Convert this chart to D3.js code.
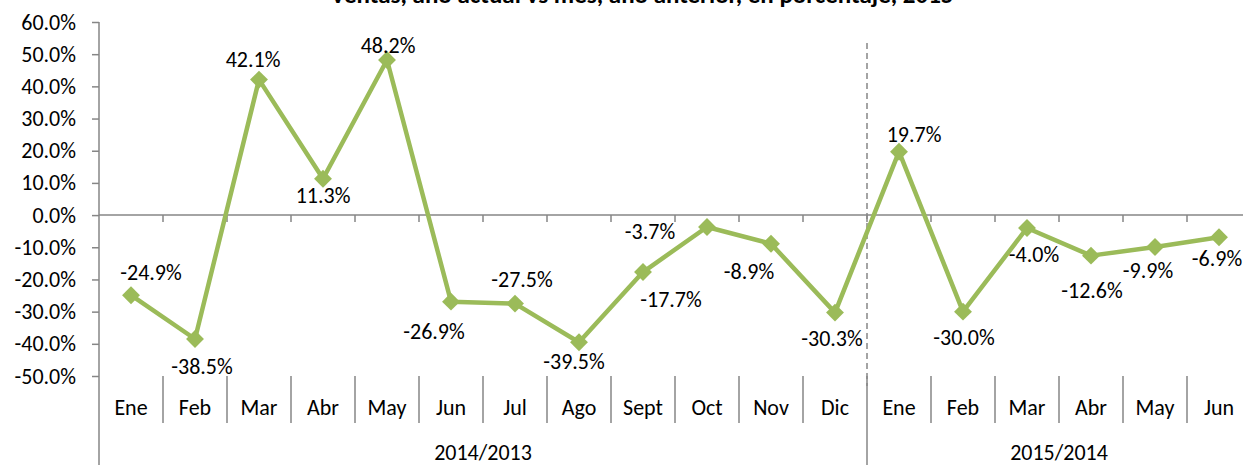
<!DOCTYPE html>
<html>
<head>
<meta charset="utf-8">
<script src="https://cdn.jsdelivr.net/npm/d3@7"></script>
<style>
  body { margin: 0; background: #fff; }
  svg text { font-family: Calibri, Carlito, Lato, sans-serif; fill: #000; }
</style>
</head>
<body>
<div id="chart"></div>
<script>
// datos
let months2014 = ["Ene", "Feb", "Mar", "Abr", "May", "Jun", "Jul", "Ago", "Sept", "Oct", "Nov", "Dic"]
let months2015 = ["Ene", "Feb", "Mar", "Abr", "May", "Jun"]
let values2014 = [-24.9, -38.5, 42.1, 11.3, 48.2, -26.9, -27.5, -39.5, -17.7, -3.7, -8.9, -30.3]
let values2015 = [19.7, -30.0, -4.0, -12.6, -9.9, -6.9]
let groupNames = ["2014/2013", "2015/2014"]
let yTicks = [-50, -40, -30, -20, -10, 0, 10, 20, 30, 40, 50, 60]
let titleText = "Ventas, año actual vs mes, año anterior, en porcentaje, 2015"
// desplazamiento de etiquetas (colocadas a mano en el original)
let labelDx = [20, 7, -6, 0, 1, -17, 7, -5, 28, -57, -22, -3, 15, 1, 7, 1, -7, -2]
let labelDy = [-23, 27, -20, 17, -15, 30, -24, 19, 27, 4, 28, 26, -17, 26, 26, 35, 23, 21]

let width = 1243, height = 465
let margin = { top: 22, left: 99, bottom: 376 }
let catW = 64
let fontSize = "22px"
let lineColor = "#9BBB59", axisColor = "#868686"

let cats = months2014.concat(months2015)
let values = values2014.concat(values2015)
let points = values.map((v, i) => ({ i: i, v: v, name: cats[i] }))

let svg = d3.select("#chart").append("svg")
    .attr("width", width)
    .attr("height", height)

let x = d3.scaleBand()
    .domain(d3.range(cats.length))
    .range([margin.left, margin.left + cats.length * catW])
let y = d3.scaleLinear()
    .domain([-50, 60])
    .range([margin.bottom, margin.top])

// titulo (recortado arriba, como en el original)
svg.append("text")
    .attr("x", 642)
    .attr("y", 3)
    .attr("text-anchor", "middle")
    .style("font-size", "25px")
    .style("font-weight", "bold")
    .text(titleText)

// eje y
let yAxis = svg.append("g")
    .attr("transform", "translate(" + margin.left + ",0)")
    .call(d3.axisLeft(y).tickValues(yTicks).tickSize(7).tickPadding(16)
        .tickFormat(d => d.toFixed(1) + "%"))
yAxis.select(".domain").remove()
yAxis.selectAll(".tick line").attr("stroke", axisColor).attr("stroke-width", 1.5)
yAxis.selectAll(".tick text")
    .style("font-size", fontSize)
    .style("font-family", "Calibri, Carlito, Lato, sans-serif")
    .attr("fill", "#000")
svg.append("line")
    .attr("x1", margin.left).attr("x2", margin.left)
    .attr("y1", y(60)).attr("y2", height)
    .attr("stroke", axisColor).attr("stroke-width", 1.5)

// linea del cero con marcas
svg.append("line")
    .attr("x1", margin.left).attr("x2", width)
    .attr("y1", y(0)).attr("y2", y(0))
    .attr("stroke", axisColor).attr("stroke-width", 1.5)
svg.selectAll(".zeroTick")
    .data(d3.range(1, cats.length + 1))
    .enter()
    .append("line")
    .attr("class", "zeroTick")
    .attr("x1", d => margin.left + d * catW).attr("x2", d => margin.left + d * catW)
    .attr("y1", y(0)).attr("y2", y(0) + 7)
    .attr("stroke", axisColor).attr("stroke-width", 1.5)

// eje de categorias
svg.selectAll(".catDiv")
    .data(d3.range(1, cats.length + 1))
    .enter()
    .append("line")
    .attr("class", "catDiv")
    .attr("x1", d => margin.left + d * catW).attr("x2", d => margin.left + d * catW)
    .attr("y1", margin.bottom)
    .attr("y2", d => (d === months2014.length || d === cats.length) ? height : 423)
    .attr("stroke", axisColor).attr("stroke-width", 1.5)

svg.selectAll(".catLabel")
    .data(cats)
    .enter()
    .append("text")
    .attr("class", "catLabel")
    .attr("x", (d, i) => x(i) + x.bandwidth() / 2)
    .attr("y", 415)
    .attr("text-anchor", "middle")
    .style("font-size", fontSize)
    .text(d => d)

let groupSpans = [[0, months2014.length], [months2014.length, cats.length]]
svg.selectAll(".groupLabel")
    .data(groupNames)
    .enter()
    .append("text")
    .attr("class", "groupLabel")
    .attr("x", (d, i) => margin.left + (groupSpans[i][0] + groupSpans[i][1]) / 2 * catW)
    .attr("y", 460)
    .attr("text-anchor", "middle")
    .style("font-size", fontSize)
    .text(d => d)

// linea punteada entre años
let sepX = margin.left + months2014.length * catW
svg.append("line")
    .attr("x1", sepX).attr("x2", sepX)
    .attr("y1", 43).attr("y2", 386)
    .attr("stroke", axisColor).attr("stroke-width", 1.5)
    .attr("stroke-dasharray", "6,4")

// serie
let line = d3.line()
    .x(d => x(d.i) + x.bandwidth() / 2)
    .y(d => y(d.v))
svg.append("path")
    .datum(points)
    .attr("d", line)
    .attr("fill", "none")
    .attr("stroke", lineColor)
    .attr("stroke-width", 4.5)
    .attr("stroke-linejoin", "round")

svg.selectAll(".marker")
    .data(points)
    .enter()
    .append("path")
    .attr("class", "marker")
    .attr("d", d3.symbol().type(d3.symbolSquare).size(160))
    .attr("transform", d => "translate(" + (x(d.i) + x.bandwidth() / 2) + "," + y(d.v) + ") rotate(45)")
    .attr("fill", lineColor)

svg.selectAll(".dataLabel")
    .data(points)
    .enter()
    .append("text")
    .attr("class", "dataLabel")
    .attr("x", d => x(d.i) + x.bandwidth() / 2 + labelDx[d.i])
    .attr("y", d => y(d.v) + labelDy[d.i])
    .attr("dy", "0.35em")
    .attr("text-anchor", "middle")
    .style("font-size", fontSize)
    .text(d => d.v.toFixed(1) + "%")
</script>
</body>
</html>
